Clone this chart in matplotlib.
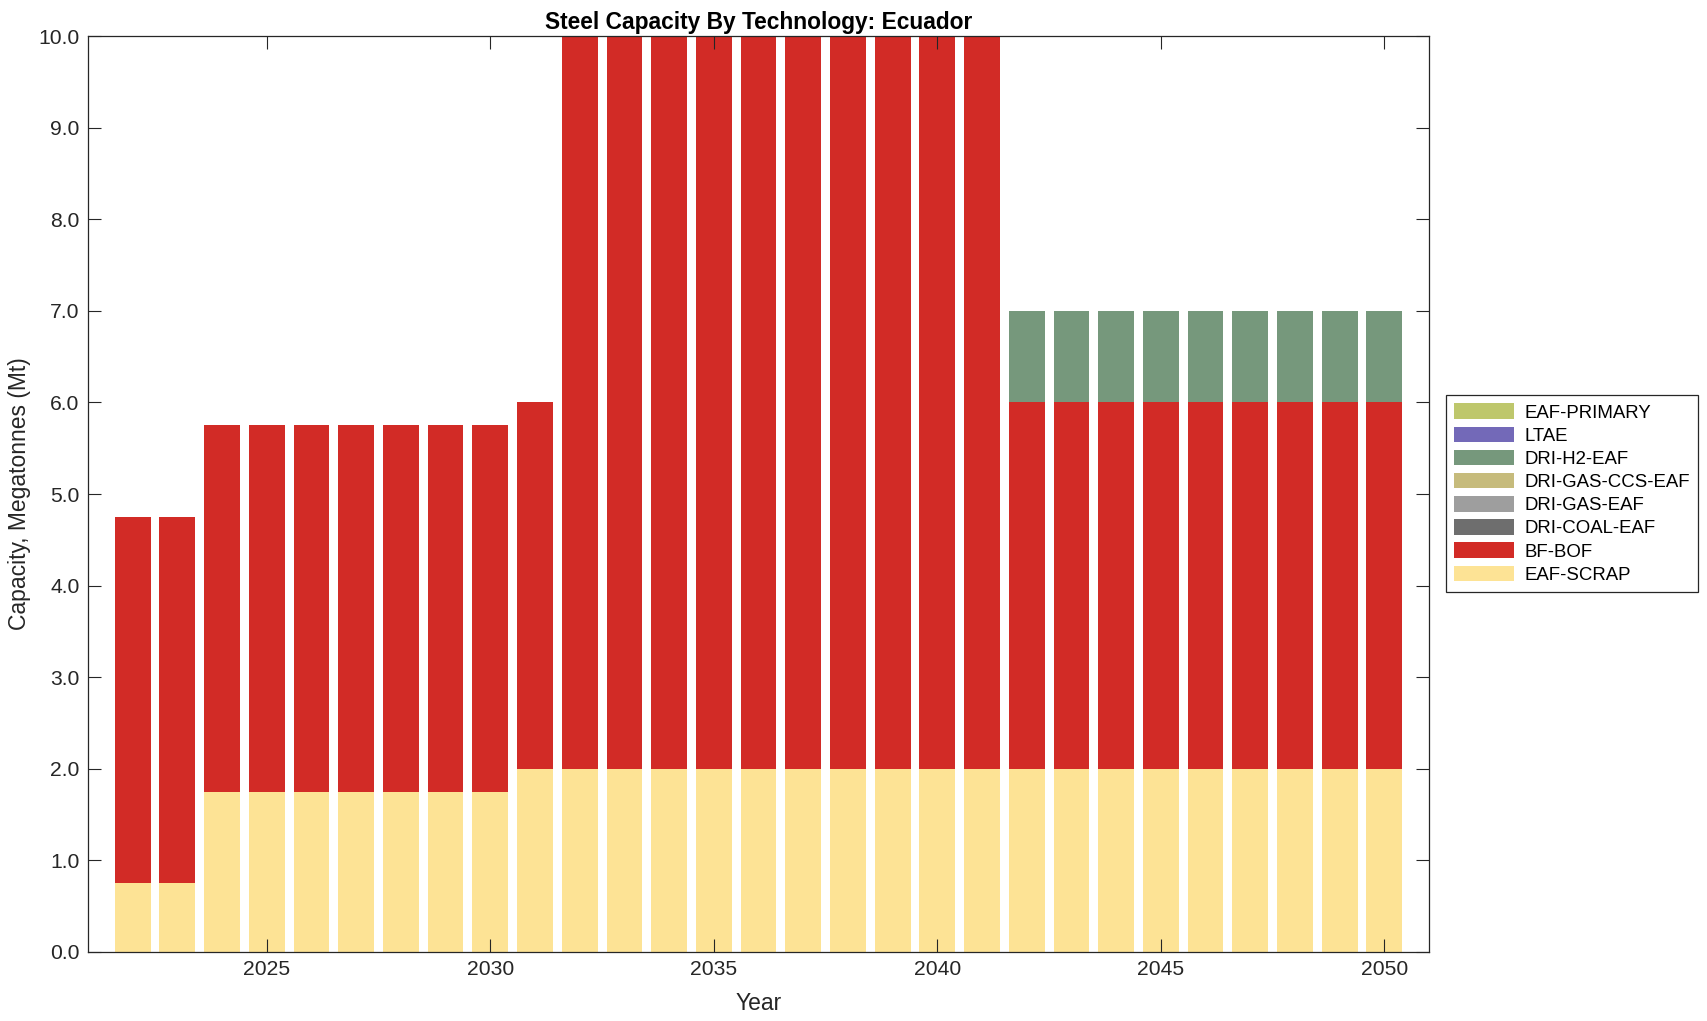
"""
steel capacity by technology - stacked bars for one country
"""

import numpy as np
import matplotlib
matplotlib.use("Agg")
import matplotlib.pyplot as plt

plt.rcParams['font.family'] = ['Liberation Sans', 'DejaVu Sans']

# data
years = list(range(2022, 2051))

eaf_scrap = [0.75, 0.75] + [1.75] * 7 + [2.0] * 20
bf_bof = [4.0] * 9 + [4.0] + [8.0] * 10 + [4.0] * 9
dri_coal_eaf = [0.0] * 29
dri_gas_eaf = [0.0] * 29
dri_gas_ccs_eaf = [0.0] * 29
dri_h2_eaf = [0.0] * 20 + [1.0] * 9
ltae = [0.0] * 29
eaf_primary = [0.0] * 29

# bottom to top
series = [
    ('EAF-SCRAP', eaf_scrap, '#FDE395'),
    ('BF-BOF', bf_bof, '#D22B26'),
    ('DRI-COAL-EAF', dri_coal_eaf, '#6E6E6E'),
    ('DRI-GAS-EAF', dri_gas_eaf, '#9E9E9E'),
    ('DRI-GAS-CCS-EAF', dri_gas_ccs_eaf, '#C6BB7C'),
    ('DRI-H2-EAF', dri_h2_eaf, '#76987C'),
    ('LTAE', ltae, '#7369B8'),
    ('EAF-PRIMARY', eaf_primary, '#BEC76C'),
]

fig = plt.figure(figsize=(17.08, 10.21), dpi=100)
ax = fig.add_axes([0.0515, 0.0676, 0.7852, 0.8971])

bottom = np.zeros(len(years))
handles = []
for name, vals, color in series:
    vals = np.array(vals)
    h = ax.bar(years, vals, width=0.8, bottom=bottom, color=color, label=name)
    handles.append(h)
    bottom += vals

ax.set_xlim(2021, 2051)
ax.set_ylim(0, 10)
ax.set_xticks(range(2025, 2051, 5))
ax.set_yticks(np.arange(0, 10.1, 1.0))
ax.set_yticklabels([f"{v:.1f}" for v in np.arange(0, 10.1, 1.0)])

ax.tick_params(direction='in', length=9.5, width=0.8, top=True, right=True,
               labelsize=15.2, colors='#262626', pad=6)
for s in ax.spines.values():
    s.set_linewidth(0.9)
    s.set_color('#262626')

ax.set_title('Steel Capacity By Technology: Ecuador', fontsize=16.4, fontweight='bold', pad=5)
ax.set_xlabel('Year', fontsize=16.5, color='#262626', labelpad=9)
ax.set_ylabel('Capacity, Megatonnes (Mt)', fontsize=16.5, color='#262626', labelpad=5)

leg = ax.legend(handles[::-1], [s[0] for s in series][::-1],
                loc='upper left', bbox_to_anchor=(0.8466, 0.6131),
                bbox_transform=fig.transFigure, borderaxespad=0,
                fontsize=13.4, handlelength=3.2, handleheight=0.9,
                labelspacing=0.27, handletextpad=0.55, borderpad=0.45,
                fancybox=False, edgecolor='#262626', framealpha=1)
leg.get_frame().set_linewidth(0.9)

plt.savefig('out.png')
plt.close()
print("Saved to out.png")
